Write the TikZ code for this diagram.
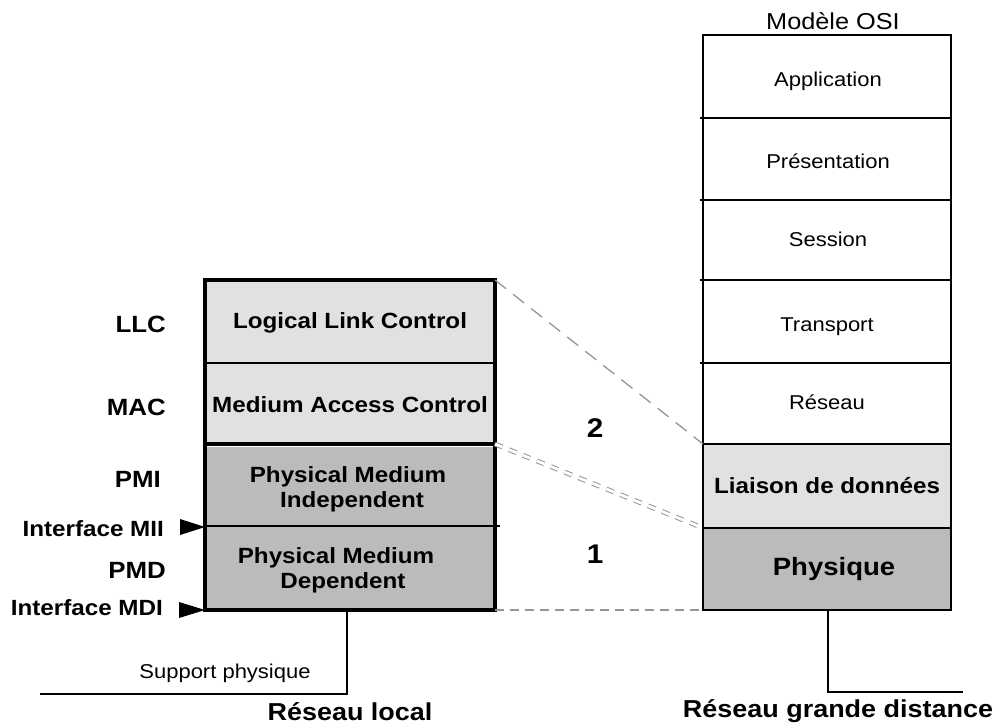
\documentclass[tikz,border=0pt]{standalone}
\usepackage{fontspec}
\setmainfont{Liberation Sans}[FakeStretch=1.1]
\definecolor{lightfill}{HTML}{E1E1E1}
\definecolor{darkfill}{HTML}{BBBBBB}
\definecolor{dashgray}{HTML}{959595}
\tikzset{
  txt/.style={inner sep=0pt, anchor=base, align=center},
  boldlbl/.style={txt, font=\fontsize{22}{25}\selectfont\bfseries},
  sidelbl/.style={inner sep=0pt, anchor=base east, font=\fontsize{23.5}{26}\selectfont\bfseries},
  ifacelbl/.style={inner sep=0pt, anchor=base east, font=\fontsize{22}{26}\selectfont\bfseries},
  osilbl/.style={txt, font=\fontsize{20}{24}\selectfont},
  numlbl/.style={txt, font=\fontsize{27}{30}\selectfont\bfseries},
  bottomlbl/.style={txt, font=\fontsize{24.5}{28}\selectfont\bfseries},
  thickbox/.style={line width=3.4pt},
  thinline/.style={line width=1.3pt},
  dashconn/.style={dashgray, line width=1.3pt, dash pattern=on 14pt off 9pt},
  ddashconn/.style={dashgray, line width=1pt, double=white, double distance=2.8pt, dash pattern=on 8pt off 7pt},
  bdashconn/.style={dashgray, line width=1.3pt, dash pattern=on 9pt off 6pt},
  tri/.style={fill=black}
}
\begin{document}
\begin{tikzpicture}[x=1pt,y=-1pt]
\useasboundingbox (0,0) rectangle (1000,724);

% ---------- OSI column ----------
\fill[lightfill] (703,444) rectangle (951,528);
\fill[darkfill] (703,528) rectangle (951,610);
\draw[thinline] (703,35) rectangle (951,610);
\foreach \yy in {118,200,280,363} \draw[thinline] (700,\yy) -- (951,\yy);
\draw[line width=2pt] (703,444) rectangle (951,528);

\node[osilbl, font=\fontsize{23}{26}\selectfont] (titre) at (833,29) {Modèle OSI};
\node[osilbl] (app) at (828,86) {Application};
\node[osilbl] (pres) at (828,168) {Présentation};
\node[osilbl] (sess) at (828,246) {Session};
\node[osilbl] (transp) at (827,331) {Transport};
\node[osilbl] (reseau) at (827,409) {Réseau};
\node[boldlbl] (liaison) at (827,493) {Liaison de données};
\node[boldlbl, font=\fontsize{25}{28}\selectfont\bfseries] (physique) at (834,575) {Physique};

% ---------- LAN stack ----------
\fill[lightfill] (205,280) rectangle (495,444);
\fill[darkfill] (205,447) rectangle (495,610);
\draw[thinline] (205,363) -- (495,363);
\draw[thinline] (205,526) -- (500,526);
\draw[thickbox] (205,444) -- (495,444);
\draw[thickbox] (205,280) rectangle (495,610);

\node[boldlbl] (llc) at (350,328) {Logical Link Control};
\node[boldlbl] (mac) at (350,412) {Medium Access Control};
\node[boldlbl] (pmi1) at (348,482) {Physical Medium};
\node[boldlbl] (pmi2) at (352,507) {Independent};
\node[boldlbl] (pmd1) at (336,563) {Physical Medium};
\node[boldlbl] (pmd2) at (343,588) {Dependent};

\node[sidelbl] (sLLC) at (166,332) {LLC};
\node[sidelbl] (sMAC) at (166,415) {MAC};
\node[sidelbl] (sPMI) at (161,487) {PMI};
\node[ifacelbl] (sMII) at (164,536) {Interface MII};
\node[sidelbl] (sPMD) at (166,578) {PMD};
\node[ifacelbl] (sMDI) at (163,615) {Interface MDI};

\fill[tri] (180,519) -- (205,527) -- (180,535) -- cycle;
\fill[tri] (179,602) -- (205,610) -- (179,618) -- cycle;

% ---------- correspondences ----------
\coordinate (lanTop) at (495,280);
\coordinate (lanMid) at (495,444);
\coordinate (lanBot) at (495,610);
\coordinate (osiLiaisonTop) at (703,444);
\coordinate (osiPhysTop) at (703,528);
\coordinate (osiBot) at (703,610);
\draw[dashconn] (lanTop) -- (osiLiaisonTop);
\draw[ddashconn] (lanMid) -- (osiPhysTop);
\draw[bdashconn] (lanBot) -- (osiBot);

\node[numlbl] (deux) at (595,437) {2};
\node[numlbl] (un) at (595,563) {1};

% ---------- physical supports ----------
\coordinate (lanDown) at (347,610);
\coordinate (lanCorner) at (347,694);
\coordinate (lanEnd) at (40,694);
\draw[thinline] (lanDown) -- (lanCorner) -- (lanEnd);
\coordinate (wanDown) at (828,610);
\coordinate (wanCorner) at (828,692);
\coordinate (wanEnd) at (963,692);
\draw[thinline] (wanDown) -- (wanCorner) -- (wanEnd);

\node[osilbl] (support) at (225,678) {Support physique};
\node[bottomlbl] (rlocal) at (350,720) {Réseau local};
\node[bottomlbl] (rgd) at (838,717) {Réseau grande distance};
\end{tikzpicture}
\end{document}
